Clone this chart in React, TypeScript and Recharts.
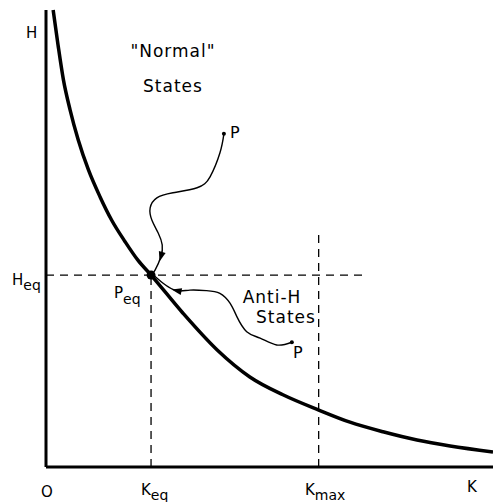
import React from 'react';
import { ComposedChart, Line, XAxis, YAxis, ReferenceLine, ReferenceDot } from 'recharts';

// equilibrium curve H(K) (axes run 0..100 in both directions)
const curveK = [1.6, 2.7, 3.9, 5.4, 7.2, 9.5, 12.1, 14.7, 17.7, 20.6, 23.5, 30.6, 38.3, 45.6, 53.0, 60.9, 68.0, 75.4, 83.0, 90.4, 100];
const curveH = [100, 92.3, 84.7, 78.1, 71.6, 65.0, 59.1, 54.0, 49.3, 45.2, 42.0, 33.7, 25.6, 19.7, 15.8, 12.5, 9.8, 7.7, 5.9, 4.6, 3.3];

// trajectory from the "normal" P down to Peq
const upperK = [39.8, 38.9, 36.7, 33.8, 28.4, 24.8, 23.3, 23.7, 25.1, 26.0, 25.7, 24.4, 23.5];
const upperH = [72.9, 68.7, 63.5, 61.1, 60.0, 58.9, 56.7, 54.0, 51.2, 48.6, 46.0, 43.1, 42.0];

// trajectory from the anti-H P back to Peq
const lowerK = [55.0, 51.6, 47.9, 44.9, 42.7, 41.2, 38.9, 35.9, 32.2, 29.2, 26.2, 24.0, 23.5];
const lowerH = [27.3, 26.7, 28.2, 29.6, 32.9, 35.8, 38.0, 38.6, 38.7, 38.6, 40.2, 42.0, 42.0];

const K_EQ = 23.5;
const H_EQ = 42;
const K_MAX = 61;
const KMAX_TOP = 52;
const HEQ_RIGHT = 70.7;

const toPts = (ks: number[], hs: number[]) => ks.map((k, i) => ({ K: k, H: hs[i] }));
const curve = toPts(curveK, curveH);
const upper = toPts(upperK, upperH);
const lower = toPts(lowerK, lowerH);

const W = 493;
const H = 502;
const FONT = '"DejaVu Sans", sans-serif';

const Arrow = (angle: number) => (props: any) => {
  const { cx, cy } = props;
  if (cx == null || cy == null) return null;
  return (
    <polygon
      points="5,0 -5,-3.5 -5,3.5"
      fill="#000"
      transform={`translate(${cx},${cy}) rotate(${angle})`}
    />
  );
};

const dash = '8 6';

export default function App() {
  return (
    <div style={{ position: 'absolute', left: 0, top: 0, width: W, height: H, background: '#fff' }}>
      <ComposedChart width={W} height={H} margin={{ top: 10, right: 0, bottom: 35, left: 46 }}>
        <XAxis dataKey="K" type="number" domain={[0, 100]} hide />
        <YAxis type="number" domain={[0, 100]} hide />

        {/* axes */}
        <ReferenceLine segment={[{ x: 0, y: 0 }, { x: 0, y: 100 }]} stroke="#000" strokeWidth={3} />
        <ReferenceLine segment={[{ x: 0, y: 0 }, { x: 100, y: 0 }]} stroke="#000" strokeWidth={3} />

        {/* dashed guides */}
        <ReferenceLine segment={[{ x: 0, y: H_EQ }, { x: HEQ_RIGHT, y: H_EQ }]} stroke="#000" strokeWidth={1.3} strokeDasharray={dash} />
        <ReferenceLine segment={[{ x: K_EQ, y: 0 }, { x: K_EQ, y: H_EQ }]} stroke="#000" strokeWidth={1.3} strokeDasharray={dash} />
        <ReferenceLine segment={[{ x: K_MAX, y: 0 }, { x: K_MAX, y: KMAX_TOP }]} stroke="#000" strokeWidth={1.3} strokeDasharray={dash} />

        <Line data={curve} dataKey="H" type="monotone" stroke="#000" strokeWidth={3.5} dot={false} isAnimationActive={false} />
        <Line data={upper} dataKey="H" type="natural" stroke="#000" strokeWidth={1.4} dot={false} isAnimationActive={false} />
        <Line data={lower} dataKey="H" type="natural" stroke="#000" strokeWidth={1.4} dot={false} isAnimationActive={false} />

        <ReferenceDot x={K_EQ} y={H_EQ} r={4.5} fill="#000" stroke="none" />
        <ReferenceDot x={upperK[0]} y={upperH[0]} r={2} fill="#000" stroke="none" />
        <ReferenceDot x={lowerK[0]} y={lowerH[0]} r={2} fill="#000" stroke="none" />
        <ReferenceDot x={upperK[10]} y={upperH[10]} r={0} shape={Arrow(106)} />
        <ReferenceDot x={lowerK[9]} y={lowerH[9]} r={0} shape={Arrow(192)} />
      </ComposedChart>

      <svg width={W} height={H} style={{ position: 'absolute', left: 0, top: 0, pointerEvents: 'none' }}>
        <g fontFamily={FONT} fill="#000">
          <text x={173} y={57} fontSize={17} textAnchor="middle" letterSpacing={1}>"Normal"</text>
          <text x={173} y={92} fontSize={17} textAnchor="middle" letterSpacing={1}>States</text>
          <text x={272} y={303} fontSize={17} textAnchor="middle" letterSpacing={1}>Anti-H</text>
          <text x={286} y={323} fontSize={17} textAnchor="middle" letterSpacing={1}>States</text>
          <text x={230} y={138} fontSize={16}>P</text>
          <text x={293} y={358} fontSize={16}>P</text>

          <text x={26} y={38} fontSize={15}>H</text>
          <text x={12} y={285} fontSize={15}>H<tspan fontSize={14} dy={5}>eq</tspan></text>
          <text x={114} y={298} fontSize={15}>P<tspan fontSize={14} dy={6}>eq</tspan></text>
          <text x={41} y={497} fontSize={15}>O</text>
          <text x={141} y={495} fontSize={15}>K<tspan fontSize={14} dy={5}>eq</tspan></text>
          <text x={305} y={495} fontSize={15}>K<tspan fontSize={14} dy={5}>max</tspan></text>
          <text x={467} y={492} fontSize={15}>K</text>
        </g>
      </svg>
    </div>
  );
}
